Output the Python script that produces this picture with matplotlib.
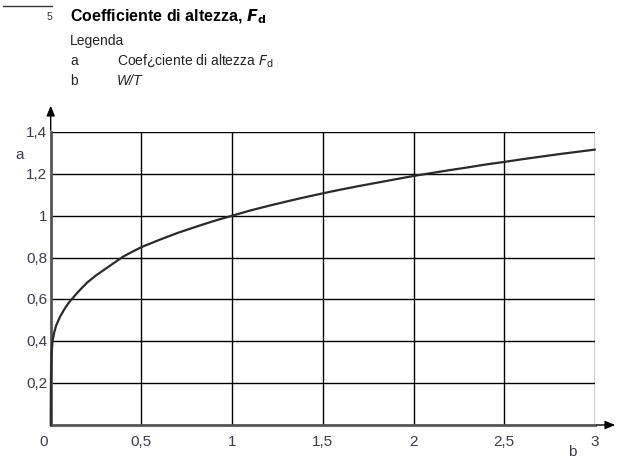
import matplotlib
matplotlib.use("Agg")
import matplotlib.pyplot as plt
from matplotlib import font_manager as fm

# Data
wt = [0.0, 0.001, 0.002, 0.005, 0.01, 0.02, 0.03, 0.05, 0.075, 0.1, 0.125, 0.15,
      0.2, 0.25, 0.3, 0.35, 0.4, 0.45, 0.5, 0.6, 0.7, 0.8, 0.9, 1.0, 1.1, 1.2,
      1.3, 1.4, 1.5, 1.6, 1.7, 1.8, 1.9, 2.0, 2.1, 2.2, 2.3, 2.4, 2.5, 2.6,
      2.7, 2.8, 2.9, 3.0]
fd = [0.0, 0.18, 0.26, 0.34, 0.40, 0.445, 0.475, 0.515, 0.553, 0.585, 0.61, 0.635,
      0.68, 0.715, 0.745, 0.775, 0.805, 0.828, 0.85, 0.885, 0.918, 0.947, 0.975,
      1.0, 1.025, 1.047, 1.068, 1.088, 1.107, 1.125, 1.142, 1.158, 1.174, 1.19,
      1.204, 1.218, 1.231, 1.245, 1.257, 1.27, 1.282, 1.294, 1.305, 1.316]
x_ticks = [0, 0.5, 1, 1.5, 2, 2.5, 3]
x_tick_labels = ["0", "0,5", "1", "1,5", "2", "2,5", "3"]
y_ticks = [0.2, 0.4, 0.6, 0.8, 1.0, 1.2, 1.4]
y_tick_labels = ["0,2", "0,4", "0,6", "0,8", "1", "1,2", "1,4"]

names = {f.name for f in fm.fontManager.ttflist}
narrow = "Liberation Sans Narrow" if "Liberation Sans Narrow" in names else "Liberation Sans"
base = "Liberation Sans"

W, H = 620, 460
fig = plt.figure(figsize=(W / 100, H / 100), dpi=100)

def fx(px):
    return px / W

def fy(py):
    return 1 - py / H

x0, x1, y0, y1 = 50.7, 595, 426, 133
ax = fig.add_axes([fx(x0), fy(y0), fx(x1) - fx(x0), fy(y1) - fy(y0)])
ax.set_xlim(0, 3)
ax.set_ylim(0, 1.4)
for v in x_ticks[1:]:
    ax.axvline(v, color="black", lw=1.0, zorder=1)
for v in y_ticks:
    ax.axhline(v, color="black", lw=1.0, zorder=1)
ax.plot(wt, fd, color="#2a2a2a", lw=1.6, zorder=3, solid_capstyle="round",
        clip_on=False)

for s in ["top", "right"]:
    ax.spines[s].set_visible(False)
for s in ["left", "bottom"]:
    ax.spines[s].set_color("#555555")
    ax.spines[s].set_linewidth(2.0)
ax.set_xticks([])
ax.set_yticks([])

tcol = "#3b3b4a"
# tick labels
for v, lab in zip(x_ticks, x_tick_labels):
    off = -0.04 if v == 0 else 0
    ax.text(v + off, -0.045, lab, ha="center", va="top", fontsize=11,
            family=base, color=tcol, clip_on=False)
for v, lab in zip(y_ticks, y_tick_labels):
    ax.text(-0.02, v, lab, ha="right", va="center", fontsize=11,
            family=base, color=tcol, clip_on=False)

# arrows
fig.add_artist(matplotlib.patches.FancyArrowPatch(
    (fx(x0), fy(134)), (fx(x0), fy(104)), transform=fig.transFigure,
    arrowstyle="-|>,head_length=6,head_width=2.5", color="black", lw=1.0,
    mutation_scale=1))
fig.add_artist(matplotlib.patches.FancyArrowPatch(
    (fx(594), fy(y0)), (fx(618), fy(y0)), transform=fig.transFigure,
    arrowstyle="-|>,head_length=6,head_width=2.5", color="black", lw=1.0,
    mutation_scale=1))

# axis letters
fig.text(fx(20), fy(155), "a", ha="center", va="center", fontsize=11,
         family=base, color=tcol)
fig.text(fx(572), fy(452), "b", ha="center", va="center", fontsize=11,
         family=base, color=tcol)

# header
fig.add_artist(plt.Line2D([fx(3), fx(52)], [fy(7), fy(7)], color="#333333",
                          lw=1.0, transform=fig.transFigure))
fig.text(fx(49), fy(17), "5", ha="center", va="center", fontsize=7.5,
         family=base, color="#333333")
fig.text(fx(70), fy(17), r"Coefficiente di altezza, $\boldsymbol{F}_{\mathbf{d}}$",
         ha="left", va="center", fontsize=11.5, family=narrow, weight="bold",
         color="black")
fig.text(fx(70), fy(41), "Legenda", ha="left", va="center", fontsize=10,
         family=base, color="#222222")
fig.text(fx(70), fy(61), "a", ha="left", va="center", fontsize=10,
         family=base, color="#222222")
fig.text(fx(117), fy(61), r"Coef¿ciente di altezza $F_{\mathrm{d}}$", ha="left",
         va="center", fontsize=10, family=base, color="#222222")
fig.text(fx(70), fy(81), "b", ha="left", va="center", fontsize=10,
         family=base, color="#222222")
fig.text(fx(117), fy(81), "W/T", ha="left", va="center", fontsize=10,
         family=base, style="italic", color="#222222")

fig.savefig("out.png", dpi=100)
